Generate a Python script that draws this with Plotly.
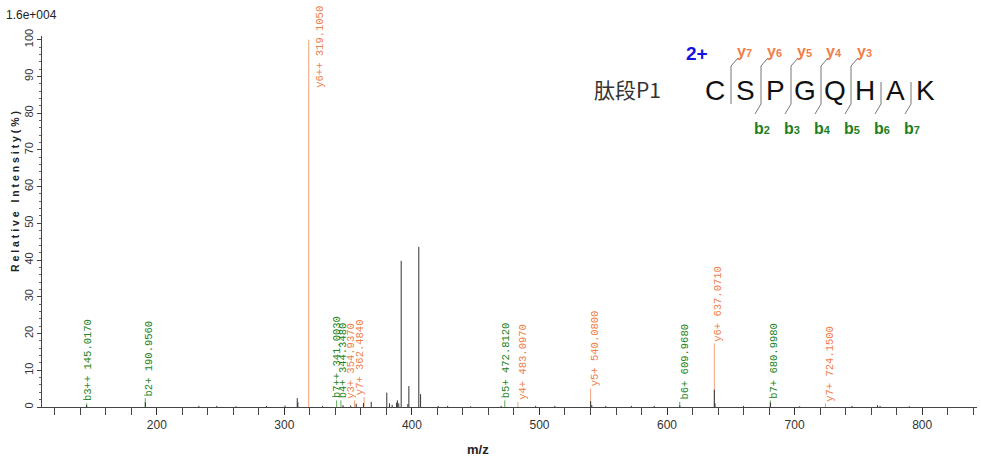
import plotly.graph_objects as go

# ---------------- data ----------------
# unlabeled (black) peaks: m/z and relative intensity (%)
peak_mz = [145.0, 191.0, 233.0, 247.0, 262.0, 286.0, 300.5, 310.1, 310.6, 330.0,
           346.0, 352.0, 356.3, 362.0, 368.1, 380.3, 382.4, 384.5, 388.0, 388.6,
           389.7, 391.6, 396.8, 397.6, 405.4, 406.8, 420.6, 428.0, 446.0, 470.0,
           497.0, 512.0, 540.1, 541.0, 552.0, 572.0, 590.0, 610.0, 637.07, 637.6,
           660.0, 681.0, 704.0, 745.0, 765.0, 767.0, 790.0]
peak_int = [0.5, 1.3, 0.3, 0.3, 0.2, 0.3, 0.4, 2.4, 1.3, 0.3,
            0.5, 0.4, 0.9, 1.1, 1.4, 3.9, 1.0, 0.6, 1.2, 1.8,
            1.0, 39.8, 0.8, 5.7, 43.6, 3.5, 0.3, 0.3, 0.2, 0.3,
            0.3, 0.3, 1.6, 0.5, 0.3, 0.3, 0.3, 0.4, 4.7, 1.0,
            0.3, 1.2, 0.2, 0.3, 0.5, 0.3, 0.2]

# annotated fragment ions
ion_label = ["b3++ 145.0170", "b2+ 190.9560", "y6++ 319.1050", "b7++ 341.0030",
             "b4+ 344.3480", "y3+ 354.9370", "y7+ 362.4840", "b5+ 472.8120",
             "y4+ 483.0970", "y5+ 540.0800", "b6+ 609.9680", "y6+ 637.0710",
             "b7+ 680.9980", "y7+ 724.1500"]
ion_mz = [145.017, 190.956, 319.105, 341.003, 344.348, 354.937, 362.484, 472.812,
          483.097, 540.080, 609.968, 637.071, 680.998, 724.150]
ion_int = [0.5, 1.3, 100.0, 0.5, 0.6, 0.5, 0.5, 0.4, 0.4, 1.6, 0.4, 4.7, 1.2, 0.4]
ion_type = ["b", "b", "y", "b", "b", "y", "y", "b", "y", "y", "b", "y", "b", "y"]

# peptide
sequence = "CSPGQHAK"
y_ions = ["y7", "y6", "y5", "y4", "y3"]        # cleavage sites 1..5
b_ions = ["b2", "b3", "b4", "b5", "b6", "b7"]  # cleavage sites 2..7

x_ticks = [200, 300, 400, 500, 600, 700, 800]
y_ticks = [0, 10, 20, 30, 40, 50, 60, 70, 80, 90, 100]

# ---------------- styling / placement ----------------
GREEN = "#238423"
ORANGE = "#F07E4A"
LINE_ORANGE = "#F2A07A"
LINE_GREEN = "#5AAA5A"
W, H = 981, 461
ML, MR, MT, MB = 42, 4, 36, 54
PW, PH = W - ML - MR, H - MT - MB

def px(x):
    return (x - ML) / PW

def py(y):
    return (H - MB - y) / PH

# label placement: base height (%) of each label and horizontal shift (px)
label_base = [1.0, 2.4, 86.3, 1.8, 1.8, 1.8, 2.7, 1.8, 1.4, 5.0, 1.4, 17.3, 1.8, 1.0]
label_shift = [2, 4, 11, 1, 2, -3, -4, 2, 5, 4, 5, 4, 4, 5]

fig = go.Figure()

# colored lines for annotated ions
for t, col in (("b", LINE_GREEN), ("y", LINE_ORANGE)):
    xs, ys = [], []
    for m, inten, b, tt in zip(ion_mz, ion_int, label_base, ion_type):
        if tt != t:
            continue
        xs += [m, m, None]
        ys += [0, max(inten, b), None]
    fig.add_trace(go.Scatter(x=xs, y=ys, mode="lines",
                             line=dict(color=col, width=1),
                             hoverinfo="skip", showlegend=False))

# black peaks
xs, ys = [], []
for m, inten in zip(peak_mz, peak_int):
    xs += [m, m, None]
    ys += [0, inten, None]
fig.add_trace(go.Scatter(x=xs, y=ys, mode="lines",
                         line=dict(color="#333333", width=1),
                         hoverinfo="skip", showlegend=False))

annotations = []
for lab, m, b, sh, t in zip(ion_label, ion_mz, label_base, label_shift, ion_type):
    annotations.append(dict(
        x=m, y=b, xref="x", yref="y", text=lab, showarrow=False,
        textangle=-90, xanchor="center", yanchor="bottom", xshift=sh,
        font=dict(family="Liberation Mono, DejaVu Sans Mono", size=10.5,
                  color=GREEN if t == "b" else ORANGE)))

# top-left scale
annotations.append(dict(x=px(4), y=py(15), xref="paper", yref="paper",
                        text="1.6e+004", showarrow=False, xanchor="left", yanchor="middle",
                        font=dict(family="Liberation Sans", size=12, color="#222")))
# y title
annotations.append(dict(x=px(15), y=py(192), xref="paper", yref="paper",
                        text="<b>R e l a t i v e   I n t e n s i t y ( % )</b>",
                        showarrow=False, textangle=-90, xanchor="center", yanchor="middle",
                        font=dict(family="Liberation Sans", size=10.5, color="#222"),
                        ))
# x title
annotations.append(dict(x=px(478), y=py(450), xref="paper", yref="paper",
                        text="<b>m/z</b>", showarrow=False, xanchor="center", yanchor="middle",
                        font=dict(family="Liberation Sans", size=13, color="#222")))

# peptide diagram
annotations.append(dict(x=px(627), y=py(89), xref="paper", yref="paper",
                        text="肽段P1", showarrow=False, xanchor="center", yanchor="middle",
                        font=dict(family="Noto Sans CJK SC", size=21, color="#333")))
annotations.append(dict(x=px(697), y=py(53), xref="paper", yref="paper",
                        text="<b>2+</b>", showarrow=False, xanchor="center", yanchor="middle",
                        font=dict(family="Liberation Sans", size=19, color="#1414E0")))
LX0, STEP = 715, 30
for i, aa in enumerate(sequence):
    annotations.append(dict(x=px(LX0 + STEP * i), y=py(90), xref="paper", yref="paper",
                            text=aa, showarrow=False, xanchor="center", yanchor="middle",
                            font=dict(family="Liberation Sans", size=28, color="#111")))

shapes = []
n_sites = len(sequence) - 1
for k in range(1, n_sites + 1):
    c = LX0 + STEP * (k - 1) + 16
    has_y = k <= len(y_ions)
    has_b = k >= 2
    top = 66 if has_y else 82
    shapes.append(dict(type="line", xref="paper", yref="paper",
                       x0=px(c), x1=px(c), y0=py(top), y1=py(104),
                       line=dict(color="#777", width=1)))
    if has_y:
        shapes.append(dict(type="line", xref="paper", yref="paper",
                           x0=px(c), x1=px(c + 7), y0=py(66), y1=py(58),
                           line=dict(color="#777", width=1)))
        lab = y_ions[k - 1]
        annotations.append(dict(x=px(c + 13), y=py(51), xref="paper", yref="paper",
                                text="<b>%s<span style='font-size:11px'>%s</span></b>" % (lab[0], lab[1:]),
                                showarrow=False, xanchor="center", yanchor="middle",
                                font=dict(family="Liberation Sans", size=16, color=ORANGE)))
    if has_b:
        shapes.append(dict(type="line", xref="paper", yref="paper",
                           x0=px(c), x1=px(c - 6), y0=py(104), y1=py(114),
                           line=dict(color="#777", width=1)))
        lab = b_ions[k - 2]
        annotations.append(dict(x=px(c + 1), y=py(128), xref="paper", yref="paper",
                                text="<b>%s<span style='font-size:11px'>%s</span></b>" % (lab[0], lab[1:]),
                                showarrow=False, xanchor="center", yanchor="middle",
                                font=dict(family="Liberation Sans", size=16, color="#1E801E")))

fig.update_layout(
    width=W, height=H,
    margin=dict(l=ML, r=MR, t=MT, b=MB, autoexpand=False),
    plot_bgcolor="white", paper_bgcolor="white",
    showlegend=False,
    annotations=annotations, shapes=shapes,
    xaxis=dict(range=[110, 843], tickvals=x_ticks, ticks="outside", ticklen=7,
               tickcolor="#333", showline=True, linecolor="#444", linewidth=1,
               showgrid=False, zeroline=False, automargin=False,
               minor=dict(dtick=20, tick0=0, ticks="outside", ticklen=7, tickcolor="#444"),
               tickfont=dict(family="Liberation Sans", size=12, color="#333")),
    yaxis=dict(range=[0, 101], tickvals=y_ticks, ticks="outside", ticklen=4,
               tickcolor="#444", showline=True, linecolor="#444", linewidth=1,
               showgrid=False, zeroline=False, tickangle=-90, automargin=False,
               minor=dict(dtick=2, tick0=0, ticks="outside", ticklen=2, tickcolor="#666"),
               tickfont=dict(family="Liberation Sans", size=11, color="#333")),
)

fig.write_html("out.html", config={"displayModeBar": False},
               post_script="document.body.style.margin='0px';document.body.style.overflow='hidden';")
